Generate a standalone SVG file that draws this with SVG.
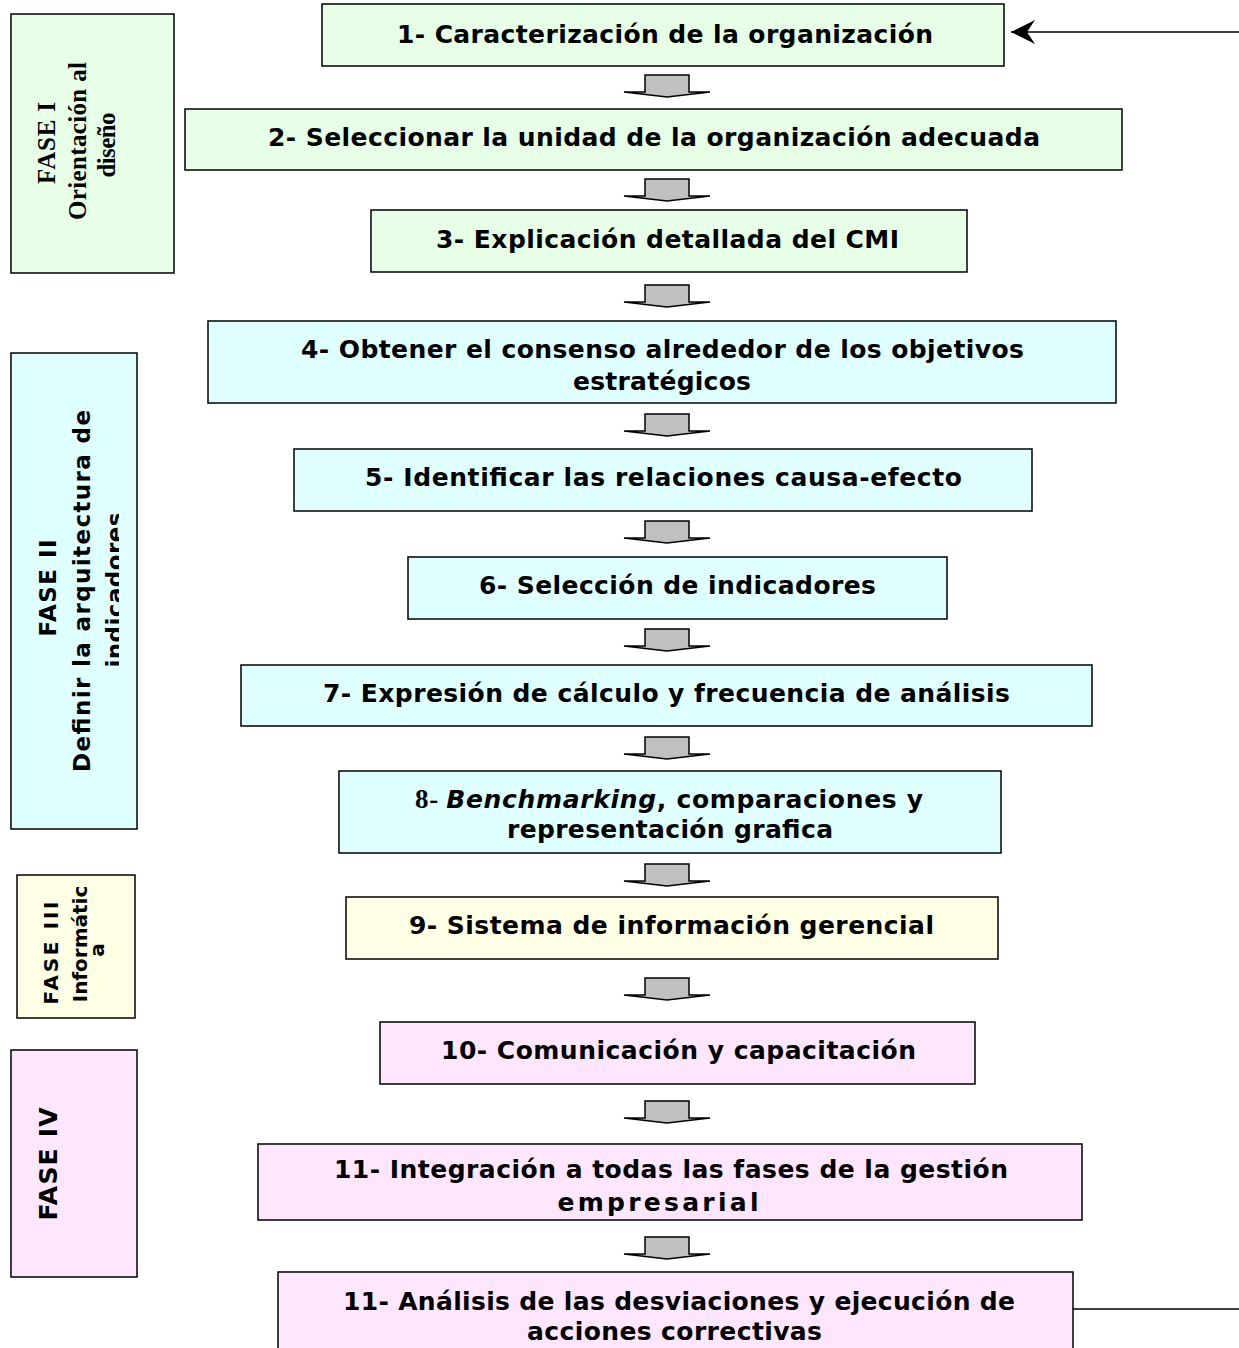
<svg xmlns="http://www.w3.org/2000/svg" width="1239" height="1348" viewBox="0 0 1239 1348">
<style>
.box{stroke:#000;stroke-width:1.5}
.g{fill:#e6ffe6}.c{fill:#e0ffff}.y{fill:#ffffe6}.p{fill:#ffe6ff}
.t{font-family:"DejaVu Sans",Verdana,sans-serif;font-weight:bold;font-size:25px;text-anchor:middle;fill:#000}
.ph{font-family:"DejaVu Sans",Verdana,sans-serif;font-weight:bold;text-anchor:middle;fill:#000}
.sf{font-family:"Liberation Serif","Times New Roman",serif;font-weight:bold;font-size:25px;text-anchor:middle;fill:#000}
.ba{fill:#c0c0c0;stroke:#000;stroke-width:1.5}
.ln{stroke:#000;stroke-width:1.5;fill:none}
</style>
<defs>
<path id="ba" d="M-22,0 H22 V17 H43 L0,22 L-43,17 H-22 Z"/>
<marker id="stealth" viewBox="0 -12 24 24" refX="24" refY="0" markerWidth="24" markerHeight="24" markerUnits="userSpaceOnUse" orient="auto">
<path d="M0,-12 L24,0 L0,12 L8,0 Z" fill="#000"/>
</marker>
<clipPath id="clipInd"><rect x="11" y="353" width="108" height="476"/></clipPath>
<clipPath id="clipEmp"><rect x="258" y="1144" width="824" height="73"/></clipPath>
</defs>

<g id="phase1">
<rect class="box g" x="11" y="14" width="163" height="259"/>
<text class="sf" transform="translate(55,143) rotate(-90)" textLength="82">FASE I</text>
<text class="sf" transform="translate(86,141) rotate(-90)" textLength="158">Orientación al</text>
<text class="sf" transform="translate(115,145) rotate(-90)" textLength="65">diseño</text>
</g>
<g id="phase2">
<rect class="box c" x="11" y="353" width="126" height="476"/>
<text class="ph" font-size="23" transform="translate(56,588) rotate(-90)" textLength="97">FASE II</text>
<text class="ph" font-size="23" transform="translate(90,591) rotate(-90)" textLength="362">Definir la arquitectura de</text>
<g clip-path="url(#clipInd)">
<text class="ph" font-size="23" transform="translate(123,590) rotate(-90)" textLength="155">indicadores</text>
</g>
</g>
<g id="phase3">
<rect class="box y" x="17" y="875" width="118" height="143"/>
<text class="ph" font-size="20" transform="translate(58,953) rotate(-90)" textLength="103">FASE III</text>
<text class="ph" font-size="20" transform="translate(87,944) rotate(-90)">Informátic</text>
<text class="ph" font-size="20" transform="translate(104,950) rotate(-90)">a</text>
</g>
<g id="phase4">
<rect class="box p" x="11" y="1050" width="126" height="227"/>
<text class="ph" font-size="25" transform="translate(57,1164) rotate(-90)" textLength="113">FASE IV</text>
</g>

<g id="connectors">
<use href="#ba" class="ba" x="667" y="75"/>
<use href="#ba" class="ba" x="667" y="179"/>
<use href="#ba" class="ba" x="667" y="285"/>
<use href="#ba" class="ba" x="667" y="414"/>
<use href="#ba" class="ba" x="667" y="521"/>
<use href="#ba" class="ba" x="667" y="629"/>
<use href="#ba" class="ba" x="667" y="737"/>
<use href="#ba" class="ba" x="667" y="864"/>
<use href="#ba" class="ba" x="667" y="978"/>
<use href="#ba" class="ba" x="667" y="1101"/>
<use href="#ba" class="ba" x="667" y="1237"/>
<line class="ln" x1="1239" y1="32" x2="1011" y2="32" marker-end="url(#stealth)"/>
<line class="ln" x1="1073" y1="1309" x2="1239" y2="1309"/>
</g>

<g id="n1">
<rect class="box g" x="322" y="4" width="682" height="62"/>
<text class="t" x="665" y="43" textLength="536">1- Caracterización de la organización</text>
</g>
<g id="n2">
<rect class="box g" x="185" y="109" width="937" height="61"/>
<text class="t" x="654" y="146" textLength="772">2- Seleccionar la unidad de la organización adecuada</text>
</g>
<g id="n3">
<rect class="box g" x="371" y="210" width="596" height="62"/>
<text class="t" x="667.5" y="248" textLength="463">3- Explicación detallada del CMI</text>
</g>
<g id="n4">
<rect class="box c" x="208" y="321" width="908" height="82"/>
<text class="t" x="662.5" y="358" textLength="723">4- Obtener el consenso alrededor de los objetivos</text>
<text class="t" x="662" y="390" textLength="178">estratégicos</text>
</g>
<g id="n5">
<rect class="box c" x="294" y="449" width="738" height="62"/>
<text class="t" x="663.5" y="486" textLength="597">5- Identificar las relaciones causa-efecto</text>
</g>
<g id="n6">
<rect class="box c" x="408" y="557" width="539" height="62"/>
<text class="t" x="677.5" y="594" textLength="397">6- Selección de indicadores</text>
</g>
<g id="n7">
<rect class="box c" x="241" y="665" width="851" height="61"/>
<text class="t" x="666.5" y="702" textLength="687">7- Expresión de cálculo y frecuencia de análisis</text>
</g>
<g id="n8">
<rect class="box c" x="339" y="771" width="662" height="82"/>
<text class="t" x="669" y="808" textLength="508"><tspan font-family="Liberation Serif,Times New Roman,serif" font-size="27">8- </tspan><tspan font-style="italic">Benchmarking</tspan>, comparaciones y</text>
<text class="t" x="670" y="838" textLength="326">representación grafica</text>
</g>
<g id="n9">
<rect class="box y" x="346" y="897" width="652" height="62"/>
<text class="t" x="671.5" y="934" textLength="525">9- Sistema de información gerencial</text>
</g>
<g id="n10">
<rect class="box p" x="380" y="1022" width="595" height="62"/>
<text class="t" x="678.5" y="1059" textLength="475">10- Comunicación y capacitación</text>
</g>
<g id="n11a">
<rect class="box p" x="258" y="1144" width="824" height="76"/>
<text class="t" x="671" y="1178" textLength="674">11- Integración a todas las fases de la gestión</text>
<g clip-path="url(#clipEmp)">
<text class="t" x="658" y="1211" textLength="201">empresarial</text>
</g>
</g>
<g id="n11b">
<rect class="box p" x="278" y="1272" width="795" height="90"/>
<text class="t" x="679" y="1310" textLength="672">11- Análisis de las desviaciones y ejecución de</text>
<text class="t" x="674.5" y="1340" textLength="295">acciones correctivas</text>
</g>
</svg>
